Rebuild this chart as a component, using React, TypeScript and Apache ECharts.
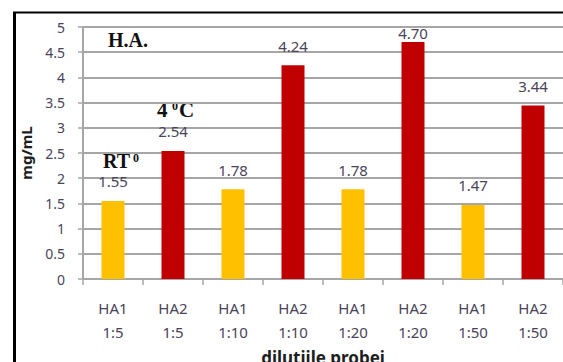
import React, { useEffect, useRef } from "react";
import * as echarts from "echarts";

// Protein concentration per sample dilution
const categories: string[] = [
  "HA1\n1:5",
  "HA2\n1:5",
  "HA1\n1:10",
  "HA2\n1:10",
  "HA1\n1:20",
  "HA2\n1:20",
  "HA1\n1:50",
  "HA2\n1:50",
];
const values: number[] = [1.55, 2.54, 1.78, 4.24, 1.78, 4.7, 1.47, 3.44];
const valueLabels: string[] = ["1.55", "2.54", "1.78", "4.24", "1.78", "4.70", "1.47", "3.44"];
// HA1 samples kept at room temperature, HA2 at 4 °C
const groups: string[] = ["RT", "4C", "RT", "4C", "RT", "4C", "RT", "4C"];
const yTicks = { min: 0, max: 5, interval: 0.5 };

const GOLD = "#FFC000";
const RED = "#C00000";
const TXT = "#4a4458";
const SANS = "'Noto Sans', sans-serif";
const SERIF = "'Liberation Serif', 'Times New Roman', serif";

export default function App() {
  const ref = useRef<HTMLDivElement>(null);

  useEffect(() => {
    if (!ref.current) return;
    const chart = echarts.init(ref.current, null, { renderer: "svg" });

    const data = values.map((v, i) => ({
      value: v,
      itemStyle: { color: groups[i] === "RT" ? GOLD : RED },
      label: {
        formatter: valueLabels[i],
        // the tallest bar keeps its label tight so it stays inside the plot
        distance: v > 4.5 ? 2 : 12,
      },
    }));

    const ann = (text: string, x: number, y: number, size: number) => ({
      type: "text",
      x,
      y,
      style: {
        text,
        font: `bold ${size}px ${SERIF}`,
        fill: "#111",
        verticalAlign: "bottom",
      },
    });

    chart.setOption({
      animation: false,
      backgroundColor: "#ffffff",
      grid: {
        left: 83,
        right: 0,
        top: 27,
        bottom: 83,
        containLabel: false,
        outerBoundsMode: "none",
      },
      xAxis: {
        type: "category",
        data: categories,
        axisLine: { show: true, lineStyle: { color: "#a6a6a6", width: 2 } },
        axisTick: { show: true, length: 6, lineStyle: { color: "#a6a6a6", width: 1.5 } },
        axisLabel: {
          color: TXT,
          fontFamily: SANS,
          fontSize: 15,
          lineHeight: 24,
          margin: 17,
        },
        name: "diluţiile probei",
        nameLocation: "middle",
        nameGap: 64,
        nameTextStyle: {
          color: "#1e1e1e",
          fontFamily: SANS,
          fontWeight: "bold",
          fontSize: 17,
        },
      },
      yAxis: {
        type: "value",
        min: yTicks.min,
        max: yTicks.max,
        interval: yTicks.interval,
        axisLine: { show: true, lineStyle: { color: "#a6a6a6", width: 2 } },
        axisTick: { show: true, length: 5, lineStyle: { color: "#a6a6a6", width: 1.5 } },
        splitLine: { show: true, lineStyle: { color: "#a6a6a6", width: 2 } },
        axisLabel: {
          color: TXT,
          fontFamily: SANS,
          fontSize: 14,
          margin: 18,
        },
        name: "mg/mL",
        nameLocation: "middle",
        nameGap: 50,
        nameTextStyle: {
          color: "#1e1e1e",
          fontFamily: SANS,
          fontWeight: "bold",
          fontSize: 15,
        },
      },
      series: [
        {
          type: "bar",
          data,
          barWidth: 23,
          label: {
            show: true,
            position: "top",
            color: TXT,
            fontFamily: SANS,
            fontSize: 15,
          },
        },
      ],
      graphic: [
        // frame around the figure
        {
          type: "line",
          shape: { x1: 14.5, y1: 12, x2: 14.5, y2: 362 },
          style: { stroke: "#000", lineWidth: 3 },
        },
        {
          type: "line",
          shape: { x1: 13, y1: 12.5, x2: 563, y2: 12.5 },
          style: { stroke: "#000", lineWidth: 2 },
        },
        // group annotations
        ann("H.A.", 108, 50, 20),
        ann("4", 157, 120, 21),
        ann("0", 172, 112, 12),
        ann("C", 179, 120, 21),
        ann("RT", 103, 171, 20),
        ann("0", 133, 164, 12),
      ],
    });

    return () => chart.dispose();
  }, []);

  return (
    <div
      ref={ref}
      style={{ position: "fixed", left: 0, top: 0, width: 563, height: 362 }}
    />
  );
}
